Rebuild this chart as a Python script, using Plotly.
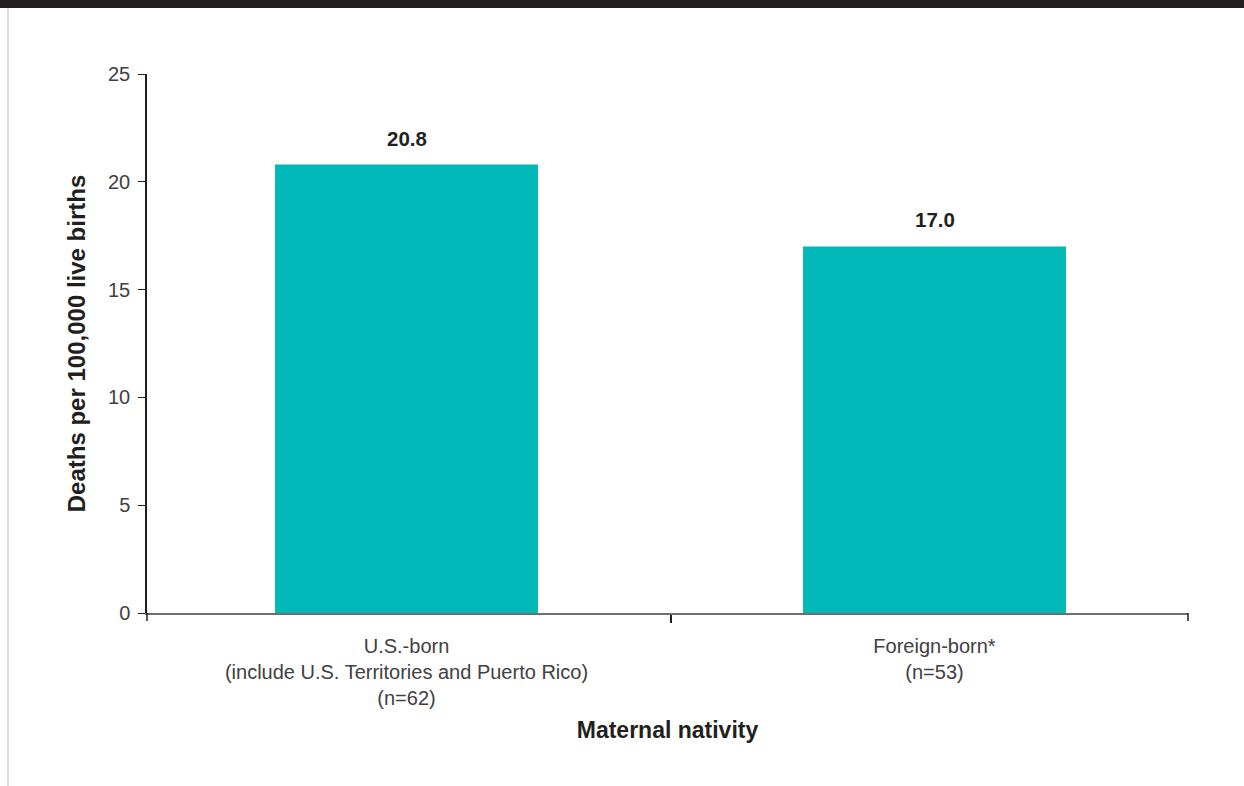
import plotly.graph_objects as go

# Maternal mortality rate by nativity
categories = [
    "U.S.-born<br>(include U.S. Territories and Puerto Rico)<br>(n=62)",
    "Foreign-born*<br>(n=53)",
]
rates = [20.8, 17.0]
y_ticks = [0, 5, 10, 15, 20, 25]

W, H = 1244, 786
L, R, T, B = 147, 56, 74, 173
pw, ph = W - L - R, H - T - B

def px_x(x):
    return (x - L) / pw

def px_y(y):
    return (H - B - y) / ph

INK = "#231f20"
TICK_INK = "#414042"
TEAL = "#00b8b8"
FONT = "Liberation Sans, Arial, sans-serif"

# category spacing of 528 px, first category centred at x=406.5
x_lo = -(406.5 - L) / 528.0
x_hi = x_lo + pw / 528.0

fig = go.Figure()
fig.add_trace(go.Bar(
    x=categories,
    y=rates,
    marker=dict(color=TEAL, line=dict(width=0)),
    width=0.498,
    hoverinfo="skip",
))

for c, v in zip(categories, rates):
    fig.add_annotation(
        x=c, y=v, text=f"<b>{v:.1f}</b>", showarrow=False,
        yanchor="bottom", yshift=13,
        font=dict(family=FONT, size=20.5, color=INK),
    )

shapes = [
    # dark header band
    dict(type="rect", xref="paper", yref="paper",
         x0=px_x(-5), x1=px_x(W + 5), y0=px_y(8), y1=px_y(-5),
         fillcolor=INK, line=dict(width=0), layer="above"),
    # thin frame line on the left
    dict(type="line", xref="paper", yref="paper",
         x0=px_x(8), x1=px_x(8), y0=px_y(8), y1=px_y(H + 5),
         line=dict(color="#cfcfcf", width=1.5)),
    # end ticks of the category axis
    dict(type="line", xref="paper", yref="paper",
         x0=0, x1=0, y0=0, y1=px_y(H - B + 8),
         line=dict(color=INK, width=1.5)),
    dict(type="line", xref="paper", yref="paper",
         x0=1, x1=1, y0=0, y1=px_y(H - B + 8),
         line=dict(color=INK, width=1.5)),
]

fig.update_layout(
    width=W, height=H,
    margin=dict(l=L, r=R, t=T, b=B, pad=0),
    paper_bgcolor="white", plot_bgcolor="white",
    showlegend=False,
    shapes=shapes,
    font=dict(family=FONT, color=INK),
    xaxis=dict(
        range=[x_lo, x_hi],
        tickson="boundaries",
        ticks="outside", ticklen=8, tickwidth=1.5, tickcolor=INK,
        showline=True, linecolor="#6d6e71", linewidth=2,
        showgrid=False, zeroline=False,
        tickfont=dict(family=FONT, size=20, color=TICK_INK),
        ticklabelstandoff=14,
        title=dict(text="<b>Maternal nativity</b>", standoff=14,
                   font=dict(family=FONT, size=23, color=INK)),
    ),
    yaxis=dict(
        range=[0, 25],
        tickvals=y_ticks,
        ticks="outside", ticklen=7, tickwidth=1, tickcolor=INK,
        showline=True, linecolor=INK, linewidth=1.5,
        showgrid=False, zeroline=False,
        tickfont=dict(family=FONT, size=20, color=TICK_INK),
        ticklabelstandoff=4,
        title=dict(text="<b>Deaths per 100,000 live births</b>", standoff=16,
                   font=dict(family=FONT, size=24, color=INK)),
    ),
)

fig.write_html("out.html")
